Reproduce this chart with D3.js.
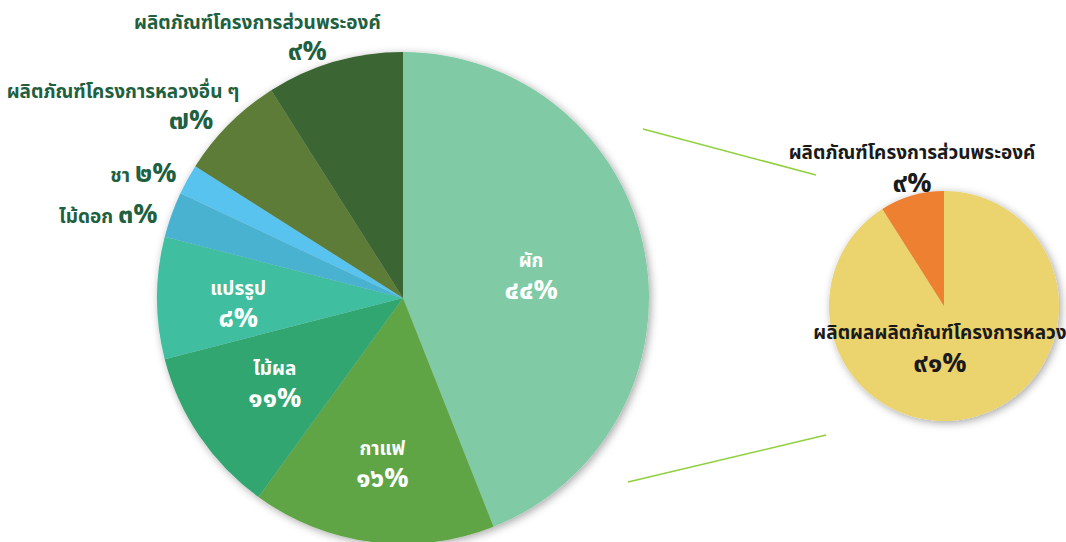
<!DOCTYPE html>
<meta charset="utf-8">
<title>Royal project products</title>
<style>
body { margin: 0; background: #fff; }
svg text { font-family: "Noto Sans Thai", "Noto Sans", "DejaVu Sans", sans-serif; font-weight: bold; }
.lbl-name { font-size: 19px; }
.lbl-pct { font-size: 27px; }
</style>
<svg width="1066" height="542"></svg>
<script src="https://d3js.org/d3.v7.min.js"></script>
<script>
// main pie
var categories = ['ผัก', 'กาแฟ', 'ไม้ผล', 'แปรรูป', 'ไม้ดอก', 'ชา', 'ผลิตภัณฑ์โครงการหลวงอื่น ๆ', 'ผลิตภัณฑ์โครงการส่วนพระองค์']
var values = [44, 16, 11, 8, 3, 2, 7, 9]
var pctLabels = ['๔๔%', '๑๖%', '๑๑%', '๘%', '๓%', '๒%', '๗%', '๙%']
var colors = ['#80cba5', '#60a544', '#33a66f', '#3fbfa0', '#49b2d0', '#59c3ef', '#5b7c38', '#3b6530']

// breakdown pie
var subCategories = ['ผลิตผลผลิตภัณฑ์โครงการหลวง', 'ผลิตภัณฑ์โครงการส่วนพระองค์']
var subValues = [91, 9]
var subPctLabels = ['๙๑%', '๙%']
var subColors = ['#ebd36e', '#ee8032']

var svg = d3.select('svg')

var defs = svg.append('defs')
var f = defs.append('filter').attr('id', 'shadow')
	.attr('x', '-10%').attr('y', '-10%').attr('width', '120%').attr('height', '120%')
f.append('feDropShadow').attr('dx', 2).attr('dy', 2).attr('stdDeviation', 4)
	.attr('flood-color', '#000').attr('flood-opacity', 0.35)

var cx = 403, cy = 298, R = 246
var pie = d3.pie().sort(null).value(function(d) { return d })
var arcs = pie(values)
var arc = d3.arc().innerRadius(0).outerRadius(R)

var g = svg.append('g').attr('transform', 'translate(' + cx + ',' + cy + ')')
g.append('g').attr('filter', 'url(#shadow)')
	.selectAll('path').data(arcs).enter().append('path')
	.attr('d', arc)
	.attr('fill', function(d, i) { return colors[i] })

// label placement: inside for the big slices, outside for the rest
var labelPos = [
	{ r: 0.53, inside: true, dy: -7 },
	{ r: 0.67, inside: true, dy: -7 },
	{ r: 0.63, inside: true, dy: -10 },
	{ r: 0.67, inside: true, dy: -3 },
	{ r: 1.06, inline: true, dy: 13 },
	{ r: 1.05, inline: true, dy: 8 },
	{ r: 1.0, dx1: -106, dx2: -38, dy: -26 },
	{ r: 1.0, dx1: -77, dx2: -27, dy: -33 }
]
var nameColor = '#1e6040'

var labelG = g.append('g')
arcs.forEach(function(d, i) {
	var p = labelPos[i]
	var a = (d.startAngle + d.endAngle) / 2
	var x = Math.sin(a) * R * p.r, y = -Math.cos(a) * R * p.r
	if (p.inside) {
		labelG.append('text').attr('class', 'lbl-name')
			.attr('x', x).attr('y', y + p.dy)
			.attr('text-anchor', 'middle').attr('fill', '#fff')
			.text(categories[i])
		labelG.append('text').attr('class', 'lbl-pct')
			.attr('x', x).attr('y', y + p.dy + 32)
			.attr('text-anchor', 'middle').attr('fill', '#fff')
			.text(pctLabels[i])
	} else if (p.inline) {
		var t = labelG.append('text')
			.attr('x', x).attr('y', y + p.dy)
			.attr('text-anchor', 'end').attr('fill', nameColor)
		t.append('tspan').attr('class', 'lbl-name').text(categories[i] + '  ')
		t.append('tspan').attr('class', 'lbl-pct').text(pctLabels[i])
	} else {
		labelG.append('text').attr('class', 'lbl-name')
			.attr('x', x + p.dx1).attr('y', y + p.dy)
			.attr('text-anchor', 'middle').attr('fill', nameColor)
			.text(categories[i])
		labelG.append('text').attr('class', 'lbl-pct')
			.attr('x', x + p.dx2).attr('y', y + p.dy + 31)
			.attr('text-anchor', 'middle').attr('fill', nameColor)
			.text(pctLabels[i])
	}
})

// connector lines
var connectors = [[[643, 129], [816, 175]], [[628, 482], [826, 435]]]
svg.append('g').selectAll('line').data(connectors).enter().append('line')
	.attr('x1', function(d) { return d[0][0] }).attr('y1', function(d) { return d[0][1] })
	.attr('x2', function(d) { return d[1][0] }).attr('y2', function(d) { return d[1][1] })
	.attr('stroke', '#8fd03c').attr('stroke-width', 1.5)

// second pie
var sx = 944, sy = 306, sR = 115
var subArcs = pie(subValues)
var subArc = d3.arc().innerRadius(0).outerRadius(sR)
var g2 = svg.append('g').attr('transform', 'translate(' + sx + ',' + sy + ')')
g2.append('g').attr('filter', 'url(#shadow)')
	.selectAll('path').data(subArcs).enter().append('path')
	.attr('d', subArc)
	.attr('fill', function(d, i) { return subColors[i] })

var subLabelPos = [{ x: -4, y: 33 }, { x: -32, y: -147 }]
subArcs.forEach(function(d, i) {
	var p = subLabelPos[i]
	g2.append('text').attr('class', 'lbl-name')
		.attr('x', p.x).attr('y', p.y)
		.attr('text-anchor', 'middle').attr('fill', '#1a1a1a')
		.text(subCategories[i])
	g2.append('text').attr('class', 'lbl-pct')
		.attr('x', p.x).attr('y', p.y + 33)
		.attr('text-anchor', 'middle').attr('fill', '#1a1a1a')
		.text(subPctLabels[i])
})
</script>
